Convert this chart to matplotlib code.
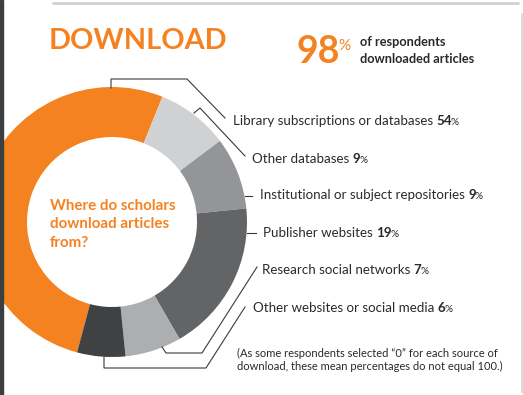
import matplotlib
matplotlib.use('Agg')
import matplotlib.pyplot as plt
from matplotlib.patches import Rectangle

W, H = 523, 395

# ---- data ----
sources = ["Library subscriptions or databases", "Other databases",
           "Institutional or subject repositories", "Publisher websites",
           "Research social networks", "Other websites or social media"]
shares = [54, 9, 9, 19, 7, 6]
colors = ["#F58220", "#CFD1D2", "#949598", "#636466", "#ACAEB0", "#404143"]
headline_value = 98
headline_text = ["of respondents", "downloaded articles"]
title = "DOWNLOAD"
center_question = ["Where do scholars", "download articles", "from?"]
footnote = ["(As some respondents selected \u201c0\u201d for each source of",
            "download, these mean percentages do not equal 100.)"]

ORANGE = "#F58220"
DARK = "#2A2A2C"
FONT = "Lato"

fig = plt.figure(figsize=(W / 100, H / 100), dpi=100)
ax = fig.add_axes([0, 0, 1, 1])


def Y(y):
    return H - y


ax.pie(shares, colors=colors, startangle=255, counterclock=False,
       radius=135, center=(112, Y(222)),
       wedgeprops=dict(width=50, linewidth=0))
ax.set_xlim(0, W)
ax.set_ylim(0, H)
ax.set_aspect('auto')
ax.axis('off')

# frame decorations
ax.add_patch(Rectangle((0, 0), 3, H, color="#3B3F42", zorder=5))
ax.plot([52, 519], [Y(3), Y(3)], color="#CCCCCC", lw=1.8, solid_capstyle='butt')
ax.plot([522, 522], [Y(14), Y(392)], color="#D5D5D5", lw=1.2)

fig.canvas.draw()
R = fig.canvas.get_renderer()


def runs(x, y, parts, gaps):
    for (s, kw), g in zip(parts, gaps):
        t = ax.text(x, Y(y), s, ha='left', va='baseline', family=FONT, **kw)
        bb = t.get_window_extent(R)
        x += bb.width + g
    return x


# title
ax.text(48.5, Y(49), title, family=FONT, fontweight='bold', fontsize=20.8,
        color=ORANGE, ha='left', va='baseline')

# headline
x_end = runs(296, 63, [(str(headline_value), dict(fontweight='bold', fontsize=27, color=ORANGE))], [0])
ax.text(x_end - 1.5, Y(39), "%", family=FONT, fontsize=11, color=ORANGE,
        ha='left', va='top')
ax.text(360, Y(46), headline_text[0], family=FONT, fontweight='bold',
        fontsize=9.2, color=DARK, ha='left', va='baseline')
ax.text(360, Y(63), headline_text[1], family=FONT, fontweight='bold',
        fontsize=9.2, color=DARK, ha='left', va='baseline')

# center question
for i, line in enumerate(center_question):
    ax.text(50, Y(210 + 18.5 * i), line, family=FONT, fontweight='bold',
            fontsize=10.9, color=ORANGE, ha='left', va='baseline')

# labels
label_pos = [(233, 125), (252, 163), (260, 199), (263, 237), (262, 274), (253, 312)]
LFS = 9.6
for name, val, (lx, ly) in zip(sources, shares, label_pos):
    runs(lx, ly, [(name, dict(fontsize=LFS, color=DARK)),
                  (str(val), dict(fontsize=LFS, fontweight='bold', color=DARK)),
                  ("%", dict(fontsize=LFS * 0.75, color=DARK))],
         [3.5, -1.5, 0])

# leader lines
leaders = [
    [(111, 88), (111, 79), (187, 79), (225, 118)],
    [(194, 113), (200, 108), (245, 156)],
    [(245, 196), (252, 196)],
    [(247, 233), (256, 233)],
    [(162, 347), (166, 353), (202, 353), (257, 267)],
    [(104, 357), (104, 368), (206, 368), (245, 307)],
]
for pts in leaders:
    ax.plot([p[0] for p in pts], [Y(p[1]) for p in pts], color="#3A3A3C",
            lw=0.8, solid_joinstyle='miter')

# footnote
for i, line in enumerate(footnote):
    ax.text(237, Y(357 + 12.7 * i), line, family=FONT, fontsize=8.0,
            color=DARK, ha='left', va='baseline')

fig.savefig("out.png", dpi=100)
